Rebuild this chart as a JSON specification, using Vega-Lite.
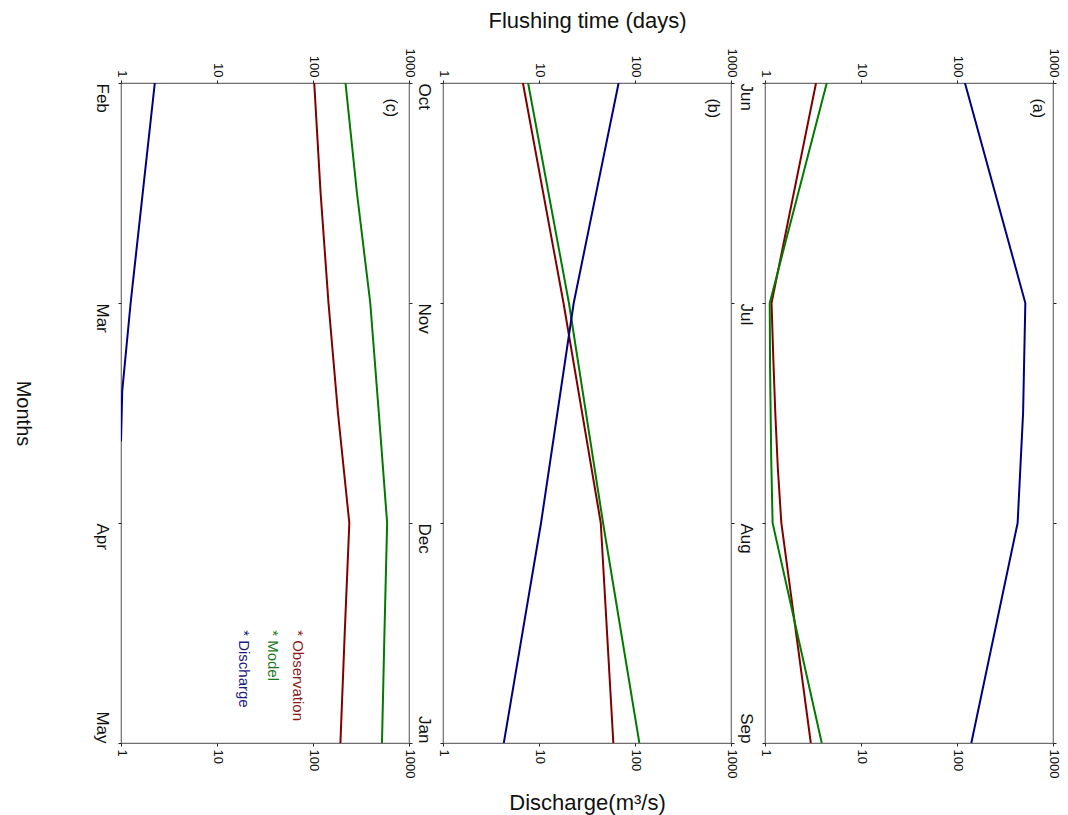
{
  "$schema": "https://vega.github.io/schema/vega-lite/v6.json",
  "background": "white",
  "padding": {"left": 11, "top": 8, "right": 10, "bottom": 5},
  "config": {
    "font": "Liberation Sans",
    "view": {"stroke": "#6e6e6e", "strokeWidth": 1.2},
    "axis": {"domain": false, "grid": false, "tickSize": 3, "tickColor": "#222", "tickWidth": 1, "labelFont": "Liberation Sans", "titleFont": "Liberation Sans", "titleFontWeight": "normal", "labelColor": "#111", "titleColor": "#111", "labelFlush": false, "labelOverlap": false}
  },
  "datasets": {
    "d": [
      {"panel": "a", "series": "Observation", "t": 0, "value": 3.4},
      {"panel": "a", "series": "Observation", "t": 1, "value": 1.17},
      {"panel": "a", "series": "Observation", "t": 1.25, "value": 1.22},
      {"panel": "a", "series": "Observation", "t": 1.5, "value": 1.28},
      {"panel": "a", "series": "Observation", "t": 1.75, "value": 1.36},
      {"panel": "a", "series": "Observation", "t": 2, "value": 1.48},
      {"panel": "a", "series": "Observation", "t": 3, "value": 3.0},
      {"panel": "a", "series": "Model", "t": 0, "value": 4.4},
      {"panel": "a", "series": "Model", "t": 1, "value": 1.12},
      {"panel": "a", "series": "Model", "t": 1.3, "value": 1.13},
      {"panel": "a", "series": "Model", "t": 1.7, "value": 1.16},
      {"panel": "a", "series": "Model", "t": 2, "value": 1.2},
      {"panel": "a", "series": "Model", "t": 3, "value": 3.9},
      {"panel": "a", "series": "Discharge", "t": 0, "value": 121},
      {"panel": "a", "series": "Discharge", "t": 1, "value": 515},
      {"panel": "a", "series": "Discharge", "t": 1.5, "value": 488},
      {"panel": "a", "series": "Discharge", "t": 2, "value": 428},
      {"panel": "a", "series": "Discharge", "t": 3, "value": 141},
      {"panel": "b", "series": "Observation", "t": 0, "value": 6.8},
      {"panel": "b", "series": "Observation", "t": 1, "value": 18},
      {"panel": "b", "series": "Observation", "t": 2, "value": 44},
      {"panel": "b", "series": "Observation", "t": 3, "value": 59.5},
      {"panel": "b", "series": "Model", "t": 0, "value": 7.7},
      {"panel": "b", "series": "Model", "t": 1, "value": 20.5},
      {"panel": "b", "series": "Model", "t": 2, "value": 46.5},
      {"panel": "b", "series": "Model", "t": 3, "value": 111},
      {"panel": "b", "series": "Discharge", "t": 0, "value": 67.5},
      {"panel": "b", "series": "Discharge", "t": 1, "value": 23},
      {"panel": "b", "series": "Discharge", "t": 2, "value": 10.5},
      {"panel": "b", "series": "Discharge", "t": 3, "value": 4.3},
      {"panel": "c", "series": "Observation", "t": 0, "value": 103},
      {"panel": "c", "series": "Observation", "t": 0.5, "value": 120},
      {"panel": "c", "series": "Observation", "t": 1, "value": 145},
      {"panel": "c", "series": "Observation", "t": 1.5, "value": 182},
      {"panel": "c", "series": "Observation", "t": 2, "value": 239},
      {"panel": "c", "series": "Observation", "t": 2.5, "value": 214},
      {"panel": "c", "series": "Observation", "t": 3, "value": 193},
      {"panel": "c", "series": "Model", "t": 0, "value": 218},
      {"panel": "c", "series": "Model", "t": 0.5, "value": 287},
      {"panel": "c", "series": "Model", "t": 1, "value": 395},
      {"panel": "c", "series": "Model", "t": 1.5, "value": 485},
      {"panel": "c", "series": "Model", "t": 2, "value": 592},
      {"panel": "c", "series": "Model", "t": 2.5, "value": 555},
      {"panel": "c", "series": "Model", "t": 3, "value": 523},
      {"panel": "c", "series": "Discharge", "t": 0, "value": 2.25},
      {"panel": "c", "series": "Discharge", "t": 1, "value": 1.26},
      {"panel": "c", "series": "Discharge", "t": 1.4, "value": 1.03},
      {"panel": "c", "series": "Discharge", "t": 1.63, "value": 1.0}
    ]
  },
  "spacing": 34,
  "bounds": "flush",
  "hconcat": [
    {
      "width": 288, "height": 660,
      "layer": [
        {
          "data": {"name": "d"},
          "transform": [{"filter": "datum.panel == 'c'"}],
          "mark": {"type": "line", "strokeWidth": 2, "clip": true},
          "encoding": {
            "x": {"field": "value", "type": "quantitative", "scale": {"type": "log", "domain": [1, 1000], "nice": false},
              "axis": {"orient": "top", "values": [1, 10, 100, 1000], "format": "d", "labelAngle": 90, "labelAlign": "right", "labelBaseline": "middle", "labelFontSize": 13, "labelPadding": 3, "title": null}},
            "y": {"field": "t", "type": "quantitative", "scale": {"domain": [0, 3], "reverse": true, "nice": false, "zero": false},
              "axis": {"orient": "left", "values": [0, 1, 2, 3], "labelExpr": "['Feb','Mar','Apr','May'][datum.value]", "labelAngle": 90, "labelAlign": {"condition": {"test": "datum.value == 3", "value": "right"}, "value": "left"}, "labelBaseline": "top", "labelFontSize": 17, "labelPadding": 9, "title": "Months", "titleAngle": 90, "titleBaseline": "top", "titleFontSize": 20, "titlePadding": 61}},
            "color": {"field": "series", "type": "nominal", "scale": {"domain": ["Observation", "Model", "Discharge"], "range": ["#800000", "#007a00", "#000080"]}, "legend": null},
            "order": {"field": "t", "type": "quantitative"}
          }
        },
        {
          "data": {"name": "d"},
          "transform": [{"filter": "datum.panel == 'c'"}],
          "mark": {"type": "line", "opacity": 0},
          "encoding": {
            "x": {"field": "value", "type": "quantitative", "scale": {"type": "log", "domain": [1, 1000], "nice": false},
              "axis": {"orient": "bottom", "values": [1, 10, 100, 1000], "format": "d", "labelAngle": 90, "labelAlign": "left", "labelBaseline": "middle", "labelFontSize": 13, "labelPadding": 3, "title": null}},
            "y": {"field": "t", "type": "quantitative", "scale": {"domain": [0, 3], "reverse": true, "nice": false, "zero": false},
              "axis": {"orient": "right", "values": [0, 1, 2, 3], "labels": false, "title": null}},
            "detail": {"field": "series"},
            "order": {"field": "t", "type": "quantitative"}
          }
        },
        {
          "data": {"values": [{}]},
          "mark": {"type": "text", "text": "(c)", "angle": 90, "align": "left", "baseline": "middle", "fontSize": 16, "color": "#111"},
          "encoding": {
            "x": {"datum": 650, "type": "quantitative", "scale": {"type": "log", "domain": [1, 1000], "nice": false}, "axis": null},
            "y": {"datum": 0.07, "type": "quantitative", "scale": {"domain": [0, 3], "reverse": true, "nice": false, "zero": false}, "axis": null}
          }
        },
        {
          "data": {"values": [{}]},
          "mark": {"type": "text", "text": "* Observation", "angle": 90, "align": "left", "baseline": "middle", "fontSize": 15, "color": "#8b1a1a"},
          "encoding": {
            "x": {"datum": 69.8, "type": "quantitative", "scale": {"type": "log", "domain": [1, 1000], "nice": false}, "axis": null},
            "y": {"datum": 2.487, "type": "quantitative", "scale": {"domain": [0, 3], "reverse": true, "nice": false, "zero": false}, "axis": null}
          }
        },
        {
          "data": {"values": [{}]},
          "mark": {"type": "text", "text": "* Model", "angle": 90, "align": "left", "baseline": "middle", "fontSize": 15, "color": "#1a7a1a"},
          "encoding": {
            "x": {"datum": 37.9, "type": "quantitative", "scale": {"type": "log", "domain": [1, 1000], "nice": false}, "axis": null},
            "y": {"datum": 2.487, "type": "quantitative", "scale": {"domain": [0, 3], "reverse": true, "nice": false, "zero": false}, "axis": null}
          }
        },
        {
          "data": {"values": [{}]},
          "mark": {"type": "text", "text": "* Discharge", "angle": 90, "align": "left", "baseline": "middle", "fontSize": 15, "color": "#1a1a80"},
          "encoding": {
            "x": {"datum": 18.9, "type": "quantitative", "scale": {"type": "log", "domain": [1, 1000], "nice": false}, "axis": null},
            "y": {"datum": 2.487, "type": "quantitative", "scale": {"domain": [0, 3], "reverse": true, "nice": false, "zero": false}, "axis": null}
          }
        }
      ],
      "resolve": {"axis": {"x": "independent", "y": "independent"}}
    },
    {
      "width": 288, "height": 660,
      "layer": [
        {
          "data": {"name": "d"},
          "transform": [{"filter": "datum.panel == 'b'"}],
          "mark": {"type": "line", "strokeWidth": 2, "clip": true},
          "encoding": {
            "x": {"field": "value", "type": "quantitative", "scale": {"type": "log", "domain": [1, 1000], "nice": false},
              "axis": {"orient": "top", "values": [1, 10, 100, 1000], "format": "d", "labelAngle": 90, "labelAlign": "right", "labelBaseline": "middle", "labelFontSize": 13, "labelPadding": 3, "title": "Flushing time (days)", "titleFontSize": 22, "titleBaseline": "bottom", "titlePadding": 16}},
            "y": {"field": "t", "type": "quantitative", "scale": {"domain": [0, 3], "reverse": true, "nice": false, "zero": false},
              "axis": {"orient": "left", "values": [0, 1, 2, 3], "labelExpr": "['Oct','Nov','Dec','Jan'][datum.value]", "labelAngle": 90, "labelAlign": {"condition": {"test": "datum.value == 3", "value": "right"}, "value": "left"}, "labelBaseline": "top", "labelFontSize": 17, "labelPadding": 9, "title": null}},
            "color": {"field": "series", "type": "nominal", "scale": {"domain": ["Observation", "Model", "Discharge"], "range": ["#800000", "#007a00", "#000080"]}, "legend": null},
            "order": {"field": "t", "type": "quantitative"}
          }
        },
        {
          "data": {"name": "d"},
          "transform": [{"filter": "datum.panel == 'b'"}],
          "mark": {"type": "line", "opacity": 0},
          "encoding": {
            "x": {"field": "value", "type": "quantitative", "scale": {"type": "log", "domain": [1, 1000], "nice": false},
              "axis": {"orient": "bottom", "values": [1, 10, 100, 1000], "format": "d", "labelAngle": 90, "labelAlign": "left", "labelBaseline": "middle", "labelFontSize": 13, "labelPadding": 3, "title": "Discharge(m³/s)", "titleFontSize": 22, "titleBaseline": "top", "titlePadding": 15}},
            "y": {"field": "t", "type": "quantitative", "scale": {"domain": [0, 3], "reverse": true, "nice": false, "zero": false},
              "axis": {"orient": "right", "values": [0, 1, 2, 3], "labels": false, "title": null}},
            "detail": {"field": "series"},
            "order": {"field": "t", "type": "quantitative"}
          }
        },
        {
          "data": {"values": [{}]},
          "mark": {"type": "text", "text": "(b)", "angle": 90, "align": "left", "baseline": "middle", "fontSize": 16, "color": "#111"},
          "encoding": {
            "x": {"datum": 650, "type": "quantitative", "scale": {"type": "log", "domain": [1, 1000], "nice": false}, "axis": null},
            "y": {"datum": 0.07, "type": "quantitative", "scale": {"domain": [0, 3], "reverse": true, "nice": false, "zero": false}, "axis": null}
          }
        }
      ],
      "resolve": {"axis": {"x": "independent", "y": "independent"}}
    },
    {
      "width": 288, "height": 660,
      "layer": [
        {
          "data": {"name": "d"},
          "transform": [{"filter": "datum.panel == 'a'"}],
          "mark": {"type": "line", "strokeWidth": 2, "clip": true},
          "encoding": {
            "x": {"field": "value", "type": "quantitative", "scale": {"type": "log", "domain": [1, 1000], "nice": false},
              "axis": {"orient": "top", "values": [1, 10, 100, 1000], "format": "d", "labelAngle": 90, "labelAlign": "right", "labelBaseline": "middle", "labelFontSize": 13, "labelPadding": 3, "title": null}},
            "y": {"field": "t", "type": "quantitative", "scale": {"domain": [0, 3], "reverse": true, "nice": false, "zero": false},
              "axis": {"orient": "left", "values": [0, 1, 2, 3], "labelExpr": "['Jun','Jul','Aug','Sep'][datum.value]", "labelAngle": 90, "labelAlign": {"condition": {"test": "datum.value == 3", "value": "right"}, "value": "left"}, "labelBaseline": "top", "labelFontSize": 17, "labelPadding": 9, "title": null}},
            "color": {"field": "series", "type": "nominal", "scale": {"domain": ["Observation", "Model", "Discharge"], "range": ["#800000", "#007a00", "#000080"]}, "legend": null},
            "order": {"field": "t", "type": "quantitative"}
          }
        },
        {
          "data": {"name": "d"},
          "transform": [{"filter": "datum.panel == 'a'"}],
          "mark": {"type": "line", "opacity": 0},
          "encoding": {
            "x": {"field": "value", "type": "quantitative", "scale": {"type": "log", "domain": [1, 1000], "nice": false},
              "axis": {"orient": "bottom", "values": [1, 10, 100, 1000], "format": "d", "labelAngle": 90, "labelAlign": "left", "labelBaseline": "middle", "labelFontSize": 13, "labelPadding": 3, "title": null}},
            "y": {"field": "t", "type": "quantitative", "scale": {"domain": [0, 3], "reverse": true, "nice": false, "zero": false},
              "axis": {"orient": "right", "values": [0, 1, 2, 3], "labels": false, "title": null}},
            "detail": {"field": "series"},
            "order": {"field": "t", "type": "quantitative"}
          }
        },
        {
          "data": {"values": [{}]},
          "mark": {"type": "text", "text": "(a)", "angle": 90, "align": "left", "baseline": "middle", "fontSize": 16, "color": "#111"},
          "encoding": {
            "x": {"datum": 690, "type": "quantitative", "scale": {"type": "log", "domain": [1, 1000], "nice": false}, "axis": null},
            "y": {"datum": 0.07, "type": "quantitative", "scale": {"domain": [0, 3], "reverse": true, "nice": false, "zero": false}, "axis": null}
          }
        }
      ],
      "resolve": {"axis": {"x": "independent", "y": "independent"}}
    }
  ]
}
